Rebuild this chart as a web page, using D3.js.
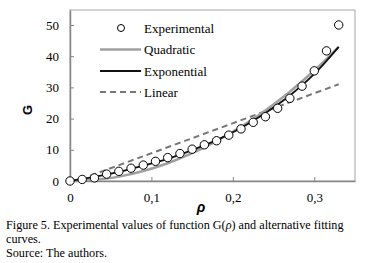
<!DOCTYPE html>
<html>
<head>
<meta charset="utf-8">
<script src="https://cdn.jsdelivr.net/npm/d3@7"></script>
<style>
  body { margin: 0; background: #fff; }
  svg text { font-family: "Liberation Serif", "Times New Roman", serif; }
</style>
</head>
<body>
<div id="chart"></div>
<script>
// Experimental points
const rho = [0, 0.015, 0.03, 0.045, 0.06, 0.075, 0.09, 0.105, 0.12, 0.135, 0.15, 0.165,
             0.18, 0.195, 0.21, 0.225, 0.24, 0.255, 0.27, 0.285, 0.30, 0.315, 0.33];
const gExp = [0, 0.5, 1.0, 2.2, 3.1, 4.1, 5.1, 6.3, 7.5, 8.8, 10.2, 11.6,
              12.9, 14.7, 16.7, 18.8, 20.6, 23.3, 26.5, 30.4, 35.3, 41.7, 50];

// Fitted curves
const rhoFit = [0, 0.03, 0.06, 0.09, 0.12, 0.15, 0.18, 0.21, 0.24, 0.27, 0.30, 0.33];
const gQuad = [0, 0.4, 1.4, 3.2, 5.7, 8.9, 12.8, 17.4, 22.6, 28.6, 35.4, 43.0];
const gExpo = [0, 1.3, 2.9, 4.9, 7.1, 9.9, 13.1, 17.0, 21.8, 27.4, 34.3, 43.0];
const rhoLin = [0.025, 0.33];
const gLin = [1.7, 31];

const xTicks = [0, 0.1, 0.2, 0.3];
const yTicks = [0, 10, 20, 30, 40, 50];
const legendNames = ["Experimental", "Quadratic", "Exponential", "Linear"];

const W = 373, H = 263;
const plot = { left: 70, right: 355, top: 10, bottom: 181 };

const svg = d3.select("#chart").append("svg")
    .attr("width", W)
    .attr("height", H);

const x = d3.scaleLinear().domain([0, 0.35]).range([plot.left, plot.right]);
const y = d3.scaleLinear().domain([0, 54.8]).range([plot.bottom, plot.top]);

// frame
svg.append("rect")
    .attr("x", plot.left).attr("y", plot.top)
    .attr("width", plot.right - plot.left).attr("height", plot.bottom - plot.top)
    .attr("fill", "none")
    .attr("stroke", "#a6a6a6")
    .attr("stroke-width", 1);

// axes
const xAxis = svg.append("g")
    .attr("transform", `translate(0,${plot.bottom})`)
    .call(d3.axisBottom(x).tickValues(xTicks).tickSizeInner(-4).tickSizeOuter(0)
        .tickFormat(d => d === 0 ? "0" : d3.format(".1f")(d).replace(".", ",")));
const yAxis = svg.append("g")
    .attr("transform", `translate(${plot.left},0)`)
    .call(d3.axisLeft(y).tickValues(yTicks).tickSizeInner(-4).tickSizeOuter(0));

[xAxis, yAxis].forEach(g => {
    g.select(".domain").attr("stroke", "#868686").attr("stroke-width", 1.5);
    g.selectAll(".tick line").attr("stroke", "#868686");
    g.selectAll(".tick text")
        .attr("fill", "#000")
        .style("font-size", "13px")
        .style("font-family", "'Liberation Serif', serif");
});
xAxis.selectAll(".tick text").attr("y", 12);
yAxis.selectAll(".tick text").attr("x", -11);
xAxis.selectAll(".tick").filter(d => d === 0).select("line").remove();
yAxis.selectAll(".tick").filter(d => d === 0).select("line").remove();

// axis titles
svg.append("text")
    .attr("transform", "translate(32,110) rotate(-90)")
    .attr("text-anchor", "middle")
    .style("font-family", "'Liberation Sans', Arial, sans-serif")
    .style("font-weight", "bold")
    .style("font-size", "13px")
    .text("G");

svg.append("text")
    .attr("x", 201).attr("y", 212)
    .attr("text-anchor", "middle")
    .style("font-family", "'Liberation Sans', Arial, sans-serif")
    .style("font-weight", "bold")
    .style("font-style", "italic")
    .style("font-size", "14px")
    .text("ρ");

// curves
const line = d3.line().curve(d3.curveMonotoneX);

svg.append("path")
    .attr("d", line(rhoLin.map((r, i) => [x(r), y(gLin[i])])))
    .attr("fill", "none")
    .attr("stroke", "#777")
    .attr("stroke-width", 2)
    .attr("stroke-dasharray", "6,4");

svg.append("path")
    .attr("d", line(rhoFit.map((r, i) => [x(r), y(gQuad[i])])))
    .attr("fill", "none")
    .attr("stroke", "#a0a0a0")
    .attr("stroke-width", 2.5);

svg.append("path")
    .attr("d", line(rhoFit.map((r, i) => [x(r), y(gExpo[i])])))
    .attr("fill", "none")
    .attr("stroke", "#111")
    .attr("stroke-width", 1.8);

// experimental points
svg.selectAll("circle.pt")
    .data(rho)
    .join("circle")
    .attr("class", "pt")
    .attr("cx", d => x(d))
    .attr("cy", (d, i) => y(gExp[i]))
    .attr("r", 4.2)
    .attr("fill", "#fff")
    .attr("stroke", "#000")
    .attr("stroke-width", 1);

// legend
const legend = svg.append("g");
const rowY = [28, 49.5, 71, 92];
legendNames.forEach((name, i) => {
    const yy = rowY[i];
    if (i === 0) {
        legend.append("circle")
            .attr("cx", 121).attr("cy", yy)
            .attr("r", 3.5)
            .attr("fill", "#fff").attr("stroke", "#000").attr("stroke-width", 1);
    } else {
        legend.append("line")
            .attr("x1", 100).attr("x2", 141)
            .attr("y1", yy).attr("y2", yy)
            .attr("stroke", ["", "#a0a0a0", "#111", "#777"][i])
            .attr("stroke-width", [0, 2.5, 1.8, 2][i])
            .attr("stroke-dasharray", i === 3 ? "6,4" : null);
    }
    legend.append("text")
        .attr("x", 144).attr("y", yy + 4.5)
        .style("font-size", "13px")
        .text(name);
});

// caption
const cap = svg.append("g").style("font-size", "12.2px");
const line1 = cap.append("text").attr("x", 6).attr("y", 229);
line1.append("tspan").text("Figure 5. Experimental values of function G(");
line1.append("tspan").style("font-style", "italic").text("ρ");
line1.append("tspan").text(") and alternative fitting");
cap.append("text").attr("x", 6).attr("y", 243).text("curves.");
cap.append("text").attr("x", 6).attr("y", 257).text("Source: The authors.");
</script>
</body>
</html>
